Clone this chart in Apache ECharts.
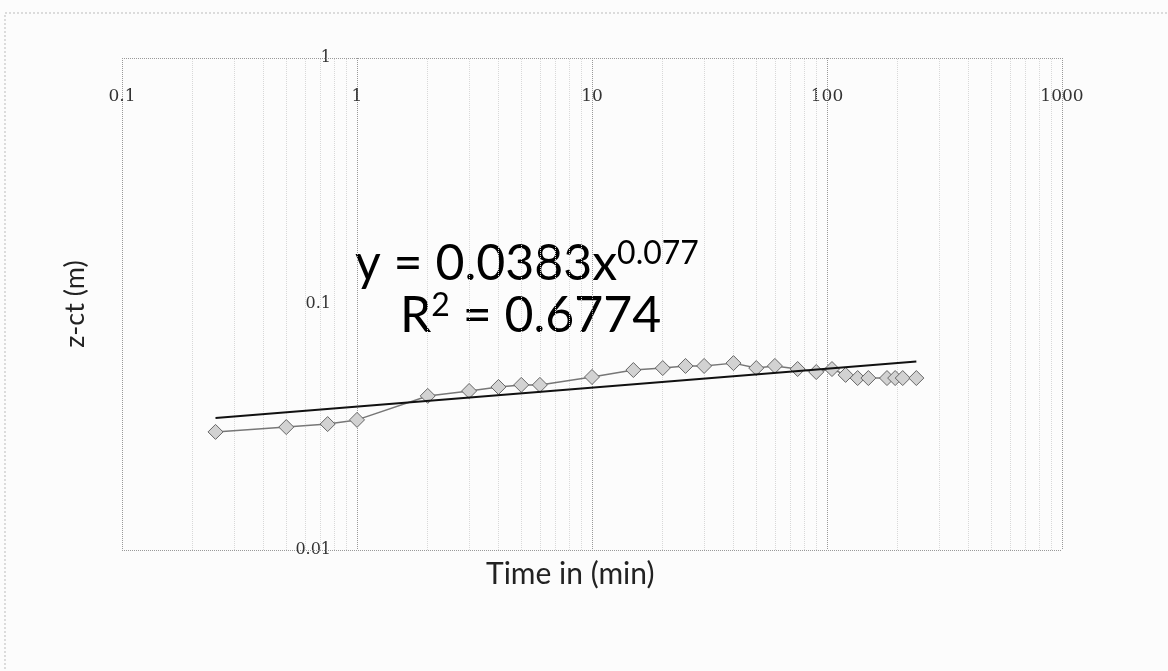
<!DOCTYPE html>
<html>
<head>
<meta charset="utf-8">
<script src="https://cdn.jsdelivr.net/npm/echarts@6/dist/echarts.min.js"></script>
<style>
  html, body { margin: 0; padding: 0; background: #fcfcfc; }
  #chart { width: 1168px; height: 671px; }
</style>
</head>
<body>
<div id="chart"></div>
<script>
// 数据
var timeMin = [0.25, 0.5, 0.75, 1, 2, 3, 4, 5, 6, 10, 15, 20, 25, 30, 40, 50, 60, 75, 90, 105, 120, 135, 150, 180, 195, 210, 240];
var depth = [0.0302, 0.0316, 0.0325, 0.0338, 0.0423, 0.0443, 0.046, 0.0469, 0.0469, 0.0505, 0.0539, 0.0549, 0.056, 0.056, 0.0575, 0.0549, 0.056, 0.0544, 0.0529, 0.0544, 0.0515, 0.05, 0.05, 0.05, 0.05, 0.05, 0.05];
// 趋势线端点 y = 0.0383x^0.077
var trendX = [0.25, 240];
var trendY = [0.0344, 0.0584];
var xTicks = [0.1, 1, 10, 100, 1000];
var yTicks = [0.01, 0.1, 1];

(function() {
  var myChart = echarts.init(document.getElementById("chart"));

  // 次网格线 (2..9 每个十进位)
  var minorLines = [];
  for (var d = 0; d < xTicks.length - 1; d++) {
    for (var k = 2; k <= 9; k++) {
      minorLines.push({ xAxis: +(xTicks[d] * k).toPrecision(3) });
    }
  }
  minorLines.push({ yAxis: yTicks[0], lineStyle: { color: "#999" } });
  minorLines.push({ yAxis: yTicks[yTicks.length - 1], lineStyle: { color: "#999" } });

  var fmt = function(v) { return String(+v.toPrecision(3)); };

  var option = {
    backgroundColor: "#fcfcfc",
    animation: false,
    grid: { left: 122, top: 58, width: 940, height: 492 },
    xAxis: {
      type: "log",
      logBase: 10,
      min: 0.1,
      max: 1000,
      position: "top",
      axisLine: { show: false },
      axisTick: { show: false },
      axisLabel: {
        inside: true,
        margin: 30,
        formatter: fmt,
        fontFamily: "DejaVu Serif",
        fontSize: 17,
        color: "#333"
      },
      splitLine: { show: true, lineStyle: { color: "#999", type: "dotted", width: 1 } }
    },
    yAxis: {
      type: "log",
      logBase: 10,
      min: 0.01,
      max: 1,
      offset: -235,
      name: "z-ct (m)",
      nameLocation: "middle",
      nameRotate: 90,
      nameGap: 268,
      nameTextStyle: { fontFamily: "Lato", fontSize: 27, color: "#222" },
      axisLine: { show: false },
      axisTick: { show: false },
      axisLabel: {
        margin: 26,
        formatter: fmt,
        fontFamily: "DejaVu Serif",
        fontSize: 16,
        color: "#333"
      },
      splitLine: { show: false }
    },
    series: [
      {
        name: "z-ct",
        type: "line",
        data: timeMin.map(function(t, i) { return [t, depth[i]]; }),
        symbol: "diamond",
        symbolSize: 15,
        itemStyle: { color: "#d2d2d2", borderColor: "#666", borderWidth: 1 },
        lineStyle: { color: "#777", width: 1.5 },
        z: 3
      },
      {
        name: "trend",
        type: "line",
        data: trendX.map(function(t, i) { return [t, trendY[i]]; }),
        symbol: "none",
        lineStyle: { color: "#111", width: 2 },
        z: 4,
        markLine: {
          silent: true,
          symbol: ["none", "none"],
          label: { show: false },
          lineStyle: { color: "#d8d8d8", type: "dotted", width: 1 },
          data: minorLines,
          z: 1
        }
      }
    ],
    graphic: [
      {
        type: "rect",
        shape: { x: 5, y: 13, width: 1200, height: 700 },
        style: { fill: null, stroke: "#bbb", lineWidth: 1, lineDash: [2, 2] },
        silent: true
      },
      {
        type: "text",
        left: 486,
        top: 559,
        style: { text: "Time in (min)", fontFamily: "Lato", fontSize: 30, fill: "#222" }
      },
      {
        type: "text",
        left: 355,
        top: 238,
        style: {
          text: "{m|y = 0.0383x}{s|0.077}",
          rich: {
            m: { fontFamily: "Lato", fontSize: 50, color: "#222" },
            s: { fontFamily: "Lato", fontSize: 32, color: "#222", verticalAlign: "top", padding: [0, 0, 20, 0] }
          }
        }
      },
      {
        type: "text",
        left: 400,
        top: 290,
        style: {
          text: "{m|R}{s|2}{m| = 0.6774}",
          rich: {
            m: { fontFamily: "Lato", fontSize: 50, color: "#222" },
            s: { fontFamily: "Lato", fontSize: 32, color: "#222", verticalAlign: "top", padding: [0, 0, 20, 0] }
          }
        }
      }
    ]
  };

  myChart.setOption(option);
  window.addEventListener("resize", function() {
    myChart.resize();
  });
})();
</script>
</body>
</html>
